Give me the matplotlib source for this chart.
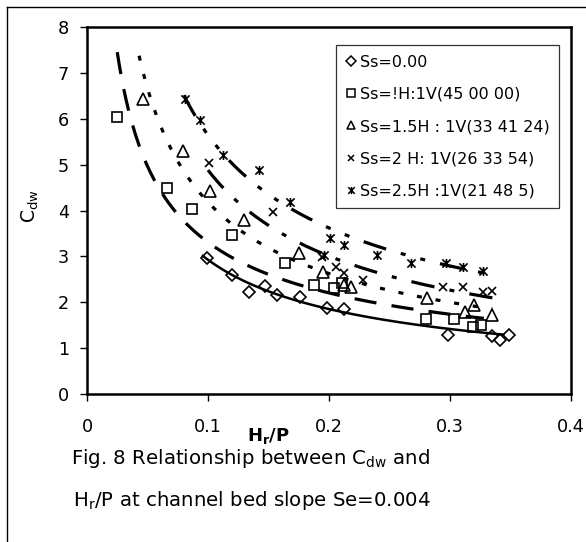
import numpy as np
import matplotlib
matplotlib.use("Agg")
import matplotlib.pyplot as plt
from matplotlib.lines import Line2D
from matplotlib.path import Path

plt.rcParams['font.family'] = ['DejaVu Sans']
plt.rcParams['lines.scale_dashes'] = False

hp_s0 = [0.099, 0.120, 0.134, 0.147, 0.157, 0.176, 0.198, 0.212, 0.298, 0.335, 0.341, 0.349]
cdw_s0 = [2.96, 2.59, 2.22, 2.35, 2.16, 2.11, 1.87, 1.85, 1.29, 1.26, 1.18, 1.29]

hp_s1 = [0.025, 0.066, 0.087, 0.120, 0.164, 0.188, 0.204, 0.211, 0.280, 0.303, 0.319, 0.326]
cdw_s1 = [6.03, 4.49, 4.03, 3.46, 2.85, 2.37, 2.31, 2.42, 1.63, 1.63, 1.46, 1.50]

hp_s15 = [0.046, 0.079, 0.102, 0.130, 0.175, 0.195, 0.212, 0.218, 0.281, 0.312, 0.320, 0.335]
cdw_s15 = [6.43, 5.29, 4.42, 3.79, 3.07, 2.66, 2.37, 2.33, 2.09, 1.79, 1.93, 1.72]

hp_s2 = [0.101, 0.154, 0.194, 0.206, 0.212, 0.228, 0.294, 0.311, 0.327, 0.335]
cdw_s2 = [5.03, 3.97, 2.99, 2.77, 2.63, 2.48, 2.33, 2.33, 2.22, 2.25]

hp_s25 = [0.081, 0.093, 0.112, 0.142, 0.168, 0.196, 0.201, 0.212, 0.240, 0.268, 0.297, 0.311, 0.327]
cdw_s25 = [6.43, 5.97, 5.21, 4.88, 4.18, 3.03, 3.40, 3.25, 3.03, 2.85, 2.85, 2.77, 2.68]

# power trendlines Cdw = a * (Hr/P)^b
trend_a = [0.64, 0.858, 0.89, 0.976, 1.29]
trend_b = [-0.66, -0.586, -0.672, -0.699, -0.641]
trend_x0 = [0.095, 0.025, 0.043, 0.100, 0.080]
trend_x1 = [0.345, 0.328, 0.335, 0.335, 0.327]

labels = ["Ss=0.00", "Ss=!H:1V(45 00 00)", "Ss=1.5H : 1V(33 41 24)",
          "Ss=2 H: 1V(26 33 54)", "Ss=2.5H :1V(21 48 5)"]

asterisk = Path([(-1, -1), (1, 1), (-1, 1), (1, -1), (0, -1.1), (0, 1.1)],
                [Path.MOVETO, Path.LINETO, Path.MOVETO, Path.LINETO, Path.MOVETO, Path.LINETO])

xs = [hp_s0, hp_s1, hp_s15, hp_s2, hp_s25]
ys = [cdw_s0, cdw_s1, cdw_s15, cdw_s2, cdw_s25]
markers = ['D', 's', '^', 'x', asterisk]
msizes = [6.0, 6.5, 8.0, 6.0, 6.5]
dash_styles = [None, (0, (16, 11)), (0, (3.6, 10)), (0, (17, 11, 3.6, 11)),
               (0, (17, 11, 3.6, 11, 3.6, 11))]

fig = plt.figure(figsize=(5.86, 5.42), dpi=100)
ax = fig.add_axes([87/586, 1-394/542, (571-87)/586, (394-27)/542])

handles = []
for i in range(5):
    xx = np.linspace(trend_x0[i], trend_x1[i], 200)
    yy = trend_a[i] * xx ** trend_b[i]
    if dash_styles[i] is None:
        ax.plot(xx, yy, color='k', lw=1.8, solid_capstyle='butt')
    else:
        ax.plot(xx, yy, color='k', lw=2.3, linestyle=dash_styles[i], dash_capstyle='butt')
    ax.plot(xs[i], ys[i], ls='none', marker=markers[i], ms=msizes[i], mfc='none',
            mec='k', mew=1.2)
    handles.append(Line2D([], [], ls='none', marker=markers[i], ms=msizes[i] * 0.8,
                          mfc='none', mec='k', mew=1.1))

ax.set_xlim(0, 0.4)
ax.set_ylim(0, 8)
ax.set_xticks([0, 0.1, 0.2, 0.3, 0.4])
ax.set_xticklabels(["0", "0.1", "0.2", "0.3", "0.4"])
ax.set_yticks(range(0, 9))
for s in ax.spines.values():
    s.set_linewidth(1.8)
ax.tick_params(direction='out', length=5, width=1.0, labelsize=12.7)
ax.tick_params(axis='x', pad=12)
ax.tick_params(axis='y', pad=8)

leg = ax.legend(handles, labels, loc='upper left', bbox_to_anchor=(0.514, 0.951),
                fontsize=11.5, frameon=True, fancybox=False, borderaxespad=0,
                handlelength=0.7, handletextpad=0.2, labelspacing=1.08,
                borderpad=0.6)
leg.get_frame().set_edgecolor('k')
leg.get_frame().set_linewidth(0.9)

W, H = 586, 542
fig.text(30/W, 1-206/H, r'$\mathregular{C_{dw}}$', rotation=90, fontsize=13.5,
         ha='center', va='center')
fig.text(268/W, 1-436/H, r'$\mathregular{H_r/P}$', fontsize=13, fontweight='bold',
         ha='center', va='center')
fig.text(251/W, 1-458/H, r'Fig. 8 Relationship between C$\mathregular{_{dw}}$ and',
         fontsize=14.2, ha='center', va='center')
fig.text(252/W, 1-500/H, r'H$\mathregular{_r}$/P at channel bed slope Se=0.004',
         fontsize=14.2, ha='center', va='center')

# outer frame (only left and top edges fall inside the picture)
fig.add_artist(Line2D([7/W, 7/W], [0, 1-7/H], color='k', lw=1.0, transform=fig.transFigure))
fig.add_artist(Line2D([7/W, 1], [1-7/H, 1-7/H], color='k', lw=1.0, transform=fig.transFigure))

fig.savefig("out.png", dpi=100)
